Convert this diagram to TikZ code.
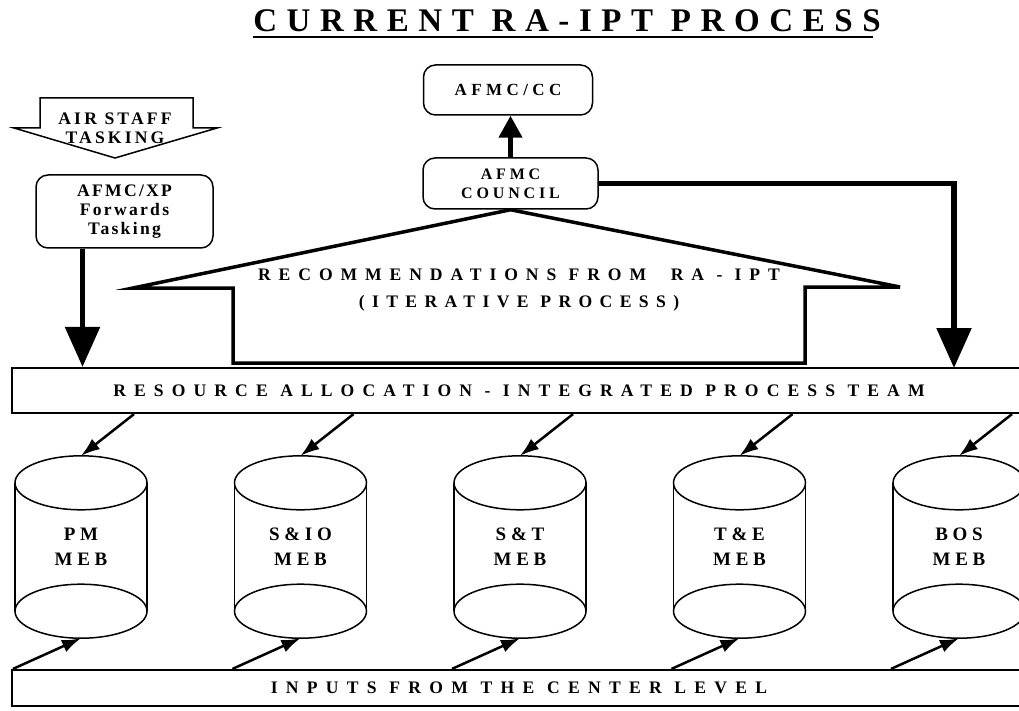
\documentclass[tikz,border=0pt]{standalone}
\usepackage{fontspec}
\setmainfont{Liberation Serif}
\usetikzlibrary{arrows.meta,calc}

\begin{document}
\begin{tikzpicture}[x=1pt,y=-1pt,
  rbox/.style={draw,line width=1.5pt,rounded corners=12pt,align=center,inner sep=0pt},
  bar/.style={draw,line width=2.2pt,inner sep=0pt,minimum width=1014pt,font=\bfseries\fontsize{17.6}{20}\selectfont},
  cyl/.style={inner sep=0pt,minimum width=132pt,minimum height=182pt,align=center,font=\bfseries\fontsize{19}{25}\selectfont\addfontfeature{LetterSpace=25}},
  bigarrow/.style={-{Triangle[width=34pt,length=40pt]},line width=5.5pt},
  diagarrow/.style={-{Latex[length=19pt,width=13pt]},line width=2.5pt}]
\useasboundingbox (0,0) rectangle (1019,711);
\node[inner sep=0pt,anchor=base,font=\bfseries\fontsize{33}{33}\selectfont\addfontfeature{LetterSpace=29}] (title) at (567,32) {CURRENT RA-IPT PROCESS};
\draw[line width=2.5pt] ($(title.base west)+(0,5)$) -- ($(title.base east)+(-8,5)$);
\node[rbox,minimum width=169pt,minimum height=50pt,font=\bfseries\fontsize{17}{19}\selectfont\addfontfeature{LetterSpace=26}] (cc) at (508,90) {AFMC/CC};
\node[rbox,minimum width=175pt,minimum height=51pt,font=\bfseries\fontsize{16}{19}\selectfont\addfontfeature{LetterSpace=24}] (council) at (510.5,183.5) {AFMC\\COUNCIL};
\draw[line width=1.5pt] (40,98) -- (193,98) -- (193,128) -- (217,128) -- (115,158) -- (14,128) -- (40,128) -- cycle;
\node[align=center,inner sep=0pt,font=\bfseries\fontsize{17.6}{19}\selectfont\addfontfeature{LetterSpace=18}] (airstaff) at (115,128.5) {AIR STAFF\\TASKING};
\node[rbox,minimum width=177pt,minimum height=73pt,font=\bfseries\fontsize{17.6}{19}\selectfont\addfontfeature{LetterSpace=13}] (xp) at (124.5,211.5) {AFMC/XP\\Forwards\\Tasking};
\draw[line width=3.5pt] (233,363) -- (233,288) -- (133,288) -- (council.south) -- (900,287) -- (805,287) -- (805,363) -- cycle;
\node[align=center,inner sep=0pt,font=\bfseries\fontsize{17.6}{27}\selectfont] (recs) at (519,290) {{\addfontfeature{LetterSpace=45}RECOMMENDATIONS FROM~~RA - IPT}\\{\addfontfeature{LetterSpace=42}(ITERATIVE PROCESS)}};
\node[bar,minimum height=45pt] (rabar) at (519,390.5) {\addfontfeature{LetterSpace=46}RESOURCE ALLOCATION - INTEGRATED PROCESS TEAM};
\node[bar,minimum height=36pt] (inbar) at (519,688) {\addfontfeature{LetterSpace=47}INPUTS FROM THE CENTER LEVEL};
\coordinate (rdrop) at (954,368);
\draw[bigarrow] ($(xp.south)+(-42,0)$) -- ($(xp.south |- rabar.north)+(-42,0)$);
\draw[-{Triangle[width=23pt,length=22pt]},line width=4.5pt] (council.north) -- (council.north |- cc.south);
\draw[bigarrow] (council.east) -| (rdrop);
\foreach \x/\n/\lbl in {81/pm/PM, 300.5/sio/S\&IO, 520/st/S\&T, 739.5/te/T\&E, 959/bos/BOS} {
  \node[cyl] (\n) at (\x,547) {\lbl\\MEB};
  \draw[line width=1.5pt] ($(\n.north)+(0,27)$) ellipse [x radius=66pt,y radius=27pt];
  \draw[line width=1.5pt] ($(\n.south)+(0,-27)$) ellipse [x radius=66pt,y radius=27pt];
  \draw[line width=1.5pt] ($(\n.north west)+(0,27)$) -- ($(\n.south west)+(0,-27)$);
  \draw[line width=1.5pt] ($(\n.north east)+(0,27)$) -- ($(\n.south east)+(0,-27)$);
  \draw[diagarrow] ($(rabar.south -| \n.north)+(53,0)$) -- (\n.north);
  \draw[diagarrow] ($(inbar.north -| \n.south)+(-68,0)$) -- (\n.south);
}
\end{tikzpicture}
\end{document}
